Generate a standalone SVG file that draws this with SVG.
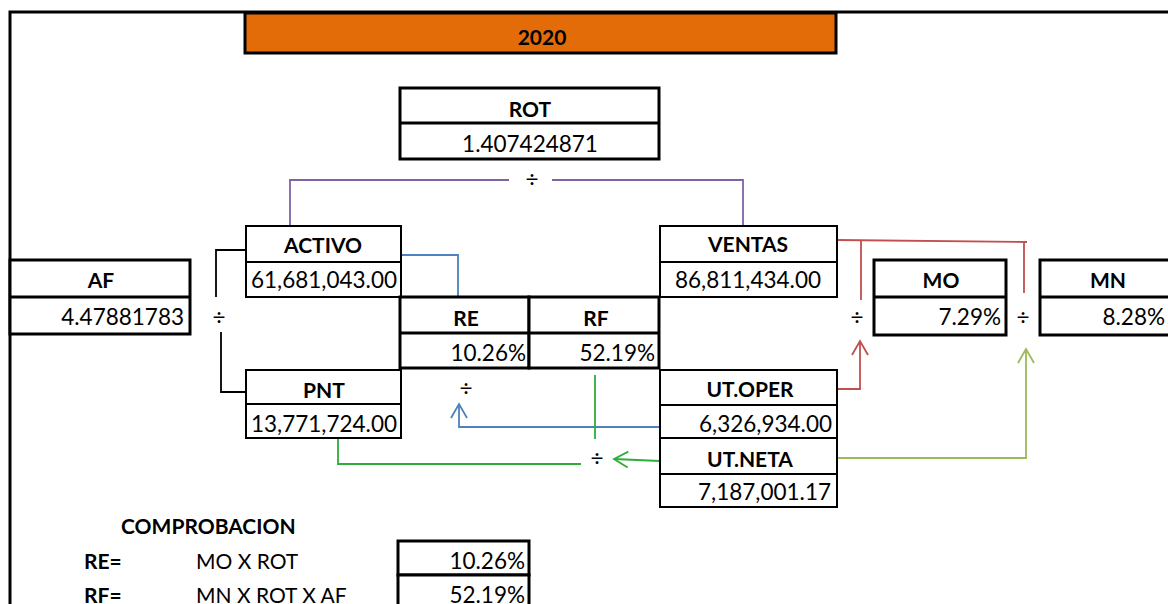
<svg xmlns="http://www.w3.org/2000/svg" width="1168" height="604" viewBox="0 0 1168 604">
<style>
text{font-family:Lato,"Liberation Sans",sans-serif;font-size:21px;fill:#000}
.b{font-weight:bold}
.n{font-size:22.5px}
.c{text-anchor:middle}
.r{text-anchor:end}
.thick{fill:#fff;stroke:#000;stroke-width:3}
.thin{fill:#fff;stroke:#000;stroke-width:2}
.conn{fill:none;stroke-width:1.8}
</style>
<defs>
<marker id="ab" markerUnits="userSpaceOnUse" markerWidth="20" markerHeight="20" viewBox="-16 -10 20 20" refX="0" refY="0" orient="auto"><path d="M-14,-8 L0,0 L-14,8" fill="none" stroke="#4F81BD" stroke-width="1.8"/></marker>
<marker id="ar" markerUnits="userSpaceOnUse" markerWidth="20" markerHeight="20" viewBox="-16 -10 20 20" refX="0" refY="0" orient="auto"><path d="M-14,-8 L0,0 L-14,8" fill="none" stroke="#C0504D" stroke-width="1.8"/></marker>
<marker id="ag" markerUnits="userSpaceOnUse" markerWidth="20" markerHeight="20" viewBox="-16 -10 20 20" refX="0" refY="0" orient="auto"><path d="M-14,-8 L0,0 L-14,8" fill="none" stroke="#2EAD3A" stroke-width="1.8"/></marker>
<marker id="ao" markerUnits="userSpaceOnUse" markerWidth="20" markerHeight="20" viewBox="-16 -10 20 20" refX="0" refY="0" orient="auto"><path d="M-14,-8 L0,0 L-14,8" fill="none" stroke="#9BBB59" stroke-width="1.8"/></marker>
</defs>
<rect width="1168" height="604" fill="#fff"/>
<g id="frame">
<path d="M10,604 V12 H1168" fill="none" stroke="#000" stroke-width="3"/>
</g>
<g id="title">
<rect x="245" y="13" width="591" height="40" fill="#E36C09" stroke="#000" stroke-width="3"/>
<text class="b c" x="542" y="45">2020</text>
</g>
<g id="connectors">
<path class="conn" stroke="#8064A2" d="M290,227 V180 H509 M552,180 H743 V227"/>
<path class="conn" stroke="#000" stroke-width="1.6" d="M246,250 H216 V297 M221,332 V392 H246"/>
<path class="conn" stroke="#4F81BD" d="M401,255 H458 V297"/>
<path class="conn" stroke="#4F81BD" d="M659,427 H459 V404" marker-end="url(#ab)"/>
<path class="conn" stroke="#2EAD3A" d="M595,375 V439"/>
<path class="conn" stroke="#2EAD3A" d="M581,464 H338 V438"/>
<path class="conn" stroke="#2EAD3A" d="M660,461 L614,459" marker-end="url(#ag)"/>
<path class="conn" stroke="#C0504D" d="M837,240 L1027,242 M861,240 V300 M1024,242 V293"/>
<path class="conn" stroke="#C0504D" d="M837,389 H860 V341" marker-end="url(#ar)"/>
<path class="conn" stroke="#9BBB59" d="M837,458 H1026 V349" marker-end="url(#ao)"/>
<text class="n c" x="532" y="187">÷</text>
<text class="n c" x="219" y="325">÷</text>
<text class="n c" x="466" y="396">÷</text>
<text class="n c" x="597" y="466">÷</text>
<text class="n c" x="857" y="325">÷</text>
<text class="n c" x="1023" y="325">÷</text>
</g>
<g id="rot">
<rect class="thick" x="400" y="88" width="259" height="71"/>
<line x1="400" y1="123" x2="659" y2="123" stroke="#000" stroke-width="3"/>
<text class="b c" x="530" y="117">ROT</text>
<text class="n c" x="530" y="152">1.407424871</text>
</g>
<g id="af">
<rect class="thick" x="10" y="260" width="180" height="74"/>
<line x1="10" y1="297" x2="190" y2="297" stroke="#000" stroke-width="3"/>
<text class="b c" x="101" y="288">AF</text>
<text class="n r" x="184" y="325">4.47881783</text>
</g>
<g id="activo">
<rect class="thin" x="246" y="226" width="155" height="71"/>
<line x1="246" y1="262" x2="401" y2="262" stroke="#000" stroke-width="2"/>
<text class="b c" x="323" y="253">ACTIVO</text>
<text class="n c" x="324" y="288">61,681,043.00</text>
</g>
<g id="pnt">
<rect class="thin" x="246" y="370" width="155" height="68"/>
<line x1="246" y1="404" x2="401" y2="404" stroke="#000" stroke-width="2"/>
<text class="b c" x="324" y="398">PNT</text>
<text class="n c" x="324" y="432">13,771,724.00</text>
</g>
<g id="re">
<rect class="thick" x="400" y="297" width="129" height="71"/>
<line x1="400" y1="333" x2="529" y2="333" stroke="#000" stroke-width="3"/>
<text class="b c" x="466" y="326">RE</text>
<text class="n r" x="526" y="361">10.26%</text>
</g>
<g id="rf">
<rect class="thick" x="529" y="297" width="130" height="71"/>
<line x1="529" y1="333" x2="659" y2="333" stroke="#000" stroke-width="3"/>
<text class="b c" x="596" y="326">RF</text>
<text class="n r" x="655" y="361">52.19%</text>
</g>
<g id="ventas">
<rect class="thin" x="660" y="226" width="177" height="71"/>
<line x1="660" y1="262" x2="837" y2="262" stroke="#000" stroke-width="2"/>
<text class="b c" x="748" y="252">VENTAS</text>
<text class="n c" x="748" y="288">86,811,434.00</text>
</g>
<g id="utoper">
<rect class="thin" x="660" y="370" width="177" height="68"/>
<line x1="660" y1="405" x2="837" y2="405" stroke="#000" stroke-width="2"/>
<text class="b c" x="750" y="397">UT.OPER</text>
<text class="n r" x="832" y="432">6,326,934.00</text>
</g>
<g id="utneta">
<rect class="thin" x="660" y="438" width="177" height="69"/>
<line x1="660" y1="474" x2="837" y2="474" stroke="#000" stroke-width="2"/>
<text class="b c" x="750" y="467">UT.NETA</text>
<text class="n r" x="831" y="500">7,187,001.17</text>
</g>
<g id="mo">
<rect class="thick" x="874" y="260" width="132" height="75"/>
<line x1="874" y1="297" x2="1006" y2="297" stroke="#000" stroke-width="3"/>
<text class="b c" x="941" y="288">MO</text>
<text class="n r" x="1001" y="325">7.29%</text>
</g>
<g id="mn">
<rect class="thick" x="1040" y="260" width="134" height="75"/>
<line x1="1040" y1="297" x2="1174" y2="297" stroke="#000" stroke-width="3"/>
<text class="b c" x="1108" y="288">MN</text>
<text class="n r" x="1165" y="325">8.28%</text>
</g>
<g id="comprobacion">
<text class="b" x="121" y="534">COMPROBACION</text>
<text class="b" x="84" y="569">RE=</text>
<text x="196" y="569">MO X ROT</text>
<rect class="thick" x="398" y="541" width="131" height="34"/>
<text class="n r" x="525" y="569">10.26%</text>
<text class="b" x="84" y="603">RF=</text>
<text x="196" y="603">MN X ROT X AF</text>
<rect class="thick" x="398" y="575" width="131" height="40"/>
<text class="n r" x="525" y="603">52.19%</text>
</g>
</svg>
